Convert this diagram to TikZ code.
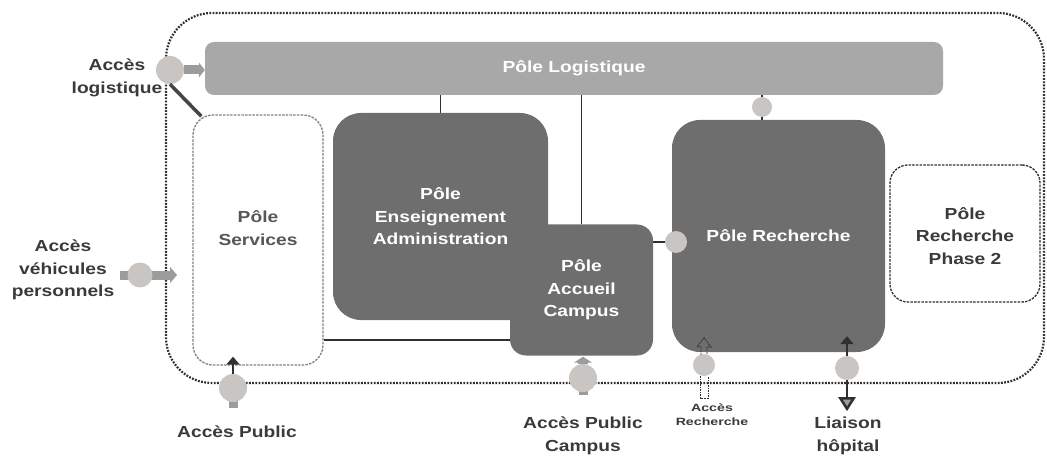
\documentclass[tikz,border=0pt]{standalone}
\usepackage{fontspec}
\setmainfont{Liberation Sans}
\newfontfamily\widefont[FakeStretch=1.2]{Liberation Sans}
\newfontfamily\widerfont[FakeStretch=1.35]{Liberation Sans}
\usetikzlibrary{arrows.meta,backgrounds}
\definecolor{darkbox}{HTML}{6E6E6E}
\definecolor{barcol}{HTML}{A8A8A8}
\definecolor{circcol}{HTML}{C9C5C2}
\definecolor{labcol}{HTML}{3A3A3A}
\definecolor{arrgray}{HTML}{9C9C9C}
\definecolor{lincol}{HTML}{303030}
\newcommand\bigtxt{\widefont\bfseries\fontsize{16}{22.5}\selectfont}
\newcommand\smalltxt{\widerfont\bfseries\fontsize{10.5}{14}\selectfont}
\tikzset{
  pole/.style={draw=none, fill=darkbox, rounded corners=28pt, text=white, font=\bigtxt, align=center, inner sep=0pt},
  dashbox/.style={draw=lincol, line width=1.3pt, dash pattern=on 2.5pt off 1.2pt, fill=white, rounded corners=18pt, inner sep=0pt},
  lab/.style={text=labcol, font=\bigtxt, align=center},
  port/.style={circle, fill=circcol, inner sep=0pt},
  conn/.style={line width=1.7pt, draw=lincol},
  garrow/.style={line width=9pt, draw=arrgray, -{Triangle[length=7pt,width=16pt]}},
  stub/.style={line width=9pt, draw=arrgray},
  darrow/.style={line width=2.5pt, draw=lincol, -{Triangle[length=8pt,width=13pt]}},
  hollow/.style={line width=0.9pt, draw=lincol, dash pattern=on 1.6pt off 1pt},
}
\begin{document}
\begin{tikzpicture}[x=1pt,y=-1pt]
\useasboundingbox (0,0) rectangle (1047,457);
% boxes
\node[pole, fill=barcol, rounded corners=9pt, minimum width=738pt, minimum height=53pt] (logi) at (574,68.5) {P\^ole Logistique};
\node[dashbox, draw=gray, rounded corners=20pt, minimum width=130pt, minimum height=250pt] (serv) at (258,240) {};
\node[text=labcol!85, font=\bigtxt, align=center] (servT) at (258,228) {P\^ole\\Services};
\node[pole, minimum width=215pt, minimum height=207pt] (ens) at (440.5,216.5) {P\^ole\\Enseignement\\Administration};
\node[pole, rounded corners=16pt, minimum width=143pt, minimum height=131pt] (acc) at (581.5,290) {P\^ole\\Accueil\\Campus};
\node[pole, minimum width=213pt, minimum height=232pt] (rech) at (778.5,236) {P\^ole Recherche};
\node[dashbox, minimum width=150pt, minimum height=137pt] (ph2) at (965,233.5) {};
\node[lab] (ph2T) at (965,236) {P\^ole\\Recherche\\Phase 2};
% ports
\node[port, minimum size=28pt] (cA) at (170,70) {};
\node[port, minimum size=25pt] (cV) at (140,275) {};
\node[port, minimum size=28pt] (cP) at (233,388) {};
\node[port, minimum size=28pt] (cC) at (583,378) {};
\node[port, minimum size=22pt] (cRe) at (704,365) {};
\node[port, minimum size=24pt] (cH) at (847,368) {};
\node[port, minimum size=22pt] (cR) at (676,242) {};
\node[port, minimum size=20pt] (cL) at (762,107) {};
\coordinate (vEnd) at (177,275);
% labels
\node[lab] (lA) at (117,78) {Acc\`es\\logistique};
\node[lab] (lV) at (63,270) {Acc\`es\\v\'ehicules\\personnels};
\node[lab] (lP) at (237,432) {Acc\`es Public};
\node[lab] (lC) at (583,436) {Acc\`es Public\\Campus};
\node[text=labcol, font=\smalltxt, align=center] (lRe) at (712,415) {Acc\`es\\Recherche};
\node[lab] (lH) at (848,436) {Liaison\\h\^opital};
\begin{scope}[on background layer]
  \draw[draw=lincol, line width=2.2pt, dash pattern=on 1.8pt off 1.4pt, rounded corners=46pt] (166,13) rectangle (1044,383);
  \draw[conn] (ens.north) -- (ens.north |- logi.south);
  \draw[conn] (acc.north) -- (acc.north |- logi.south);
  \draw[conn] ([yshift=-100pt]serv.east) -- ([yshift=-100pt]serv.east -| acc.west);
  \draw[conn] (acc.east |- cR) -- (cR);
  \draw[conn] (logi.south -| cL) -- (rech.north -| cL);
  \draw[garrow] ([xshift=-20pt]cV.center) -- (vEnd);
  \draw[stub] (cP.center) -- ([yshift=-20pt]cP.center);
  \draw[stub] (cC.center) -- ([yshift=-17pt]cC.center);
\end{scope}
% arrows over boxes
\draw[garrow, -{Triangle[length=6pt,width=15pt]}] (cA.east) -- (logi.west |- cA);
\draw[line width=3.5pt, draw=lincol!90] (cA.south) -- ([xshift=9pt,yshift=-2pt]serv.north west);
\draw[darrow] (cP.north) -- ([yshift=9pt]serv.south -| cP);
\draw[garrow, line width=10pt, -{Triangle[length=6pt,width=18pt]}] (cC.north) -- ([yshift=-1pt]acc.south -| cC);
\draw[hollow] ([shift={(-3,1)}]cRe.north) -- ++(0,-8) -- ++(-4,0) -- ++(7,-9) -- ++(7,9) -- ++(-4,0) -- ++(0,8);
\draw[hollow] ([xshift=-4pt]cRe.south) -- ++(0,22) -- ++(8,0) -- ++(0,-22);
\draw[darrow] (cH.north) -- ([yshift=16pt]rech.south -| cH);
\draw[line width=2.5pt, draw=lincol, -{Triangle[length=14pt,width=17pt,fill=arrgray]}] (cH.south) -- ([yshift=-31pt]cH.south);
\end{tikzpicture}
\end{document}
